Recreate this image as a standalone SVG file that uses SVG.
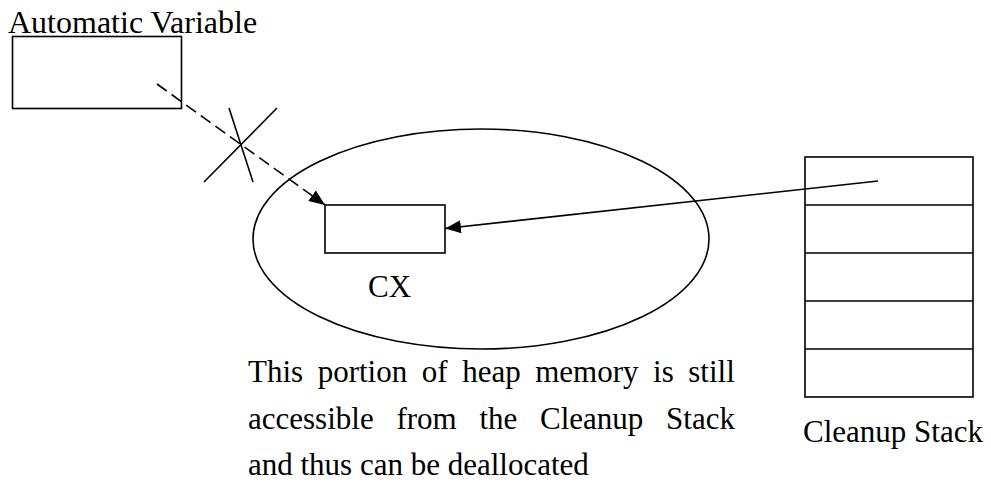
<svg xmlns="http://www.w3.org/2000/svg" width="991" height="482" viewBox="0 0 991 482">
<defs>
<style>
.s{fill:none;stroke:#000;stroke-width:1.6}
.t{font-family:"Liberation Serif","Times New Roman",serif;font-size:31px;fill:#000}
</style>
<marker id="ah" viewBox="0 0 16 13" refX="16" refY="6.5" markerWidth="16" markerHeight="13" markerUnits="userSpaceOnUse" orient="auto">
<path d="M0,0 L16,6.5 L0,13 Z" fill="#000"/>
</marker>
</defs>
<rect width="991" height="482" fill="#fff"/>
<g id="autovar">
<text class="t" x="8" y="33" style="font-size:32px">Automatic Variable</text>
<rect class="s" x="12.5" y="36.5" width="169" height="72"/>
</g>
<g id="heap">
<ellipse class="s" cx="481" cy="239" rx="228" ry="110"/>
</g>
<g id="cx">
<rect class="s" x="325" y="205" width="120" height="48"/>
<text class="t" x="368" y="297">CX</text>
</g>
<g id="stack">
<rect class="s" x="805" y="157" width="168" height="240"/>
<path class="s" d="M805,205H973M805,253H973M805,301H973M805,349H973"/>
<text class="t" x="803" y="442">Cleanup Stack</text>
</g>
<g id="note">
<text class="t" x="248" y="382" word-spacing="6.8">This portion of heap memory is still</text>
<text class="t" x="248" y="429" word-spacing="15">accessible from the Cleanup Stack</text>
<text class="t" x="248" y="475">and thus can be deallocated</text>
</g>
<g id="connectors">
<line class="s" x1="157" y1="84" x2="325" y2="205" stroke-dasharray="12,6" marker-end="url(#ah)"/>
<line class="s" x1="229" y1="108" x2="253" y2="182"/>
<line class="s" x1="277" y1="108" x2="204" y2="182"/>
<line class="s" x1="878" y1="181" x2="445" y2="228.5" marker-end="url(#ah)"/>
</g>
</svg>
